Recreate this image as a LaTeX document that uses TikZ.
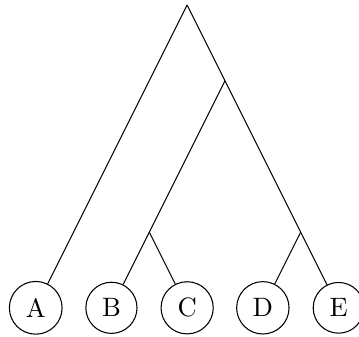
\documentclass[tikz,border=0pt]{standalone}
\usepackage{tikz}

\tikzset{leaf/.style={draw, circle}}

\begin{document}
\begin{tikzpicture}
		%%%%% START %%%%%
		\useasboundingbox (-0.472, -0.373) rectangle (4.270, 4.066);
		
		\node[leaf] (a) at (0, 0) {A};
		\node[leaf] (b) at (1, 0) {B};
		\node[leaf] (c) at (2, 0) {C};
		\node[leaf] (d) at (3, 0) {D};
		\node[leaf] (e) at (4, 0) {E};
		
		\coordinate (root) at (2, 4);
		\coordinate (bcde) at (2.5, 3);
		\coordinate (bc) at (1.5, 1);
		\coordinate (de) at (3.5, 1);
		
		\draw (root) -- (a);
		\draw (root) -- (e);
		\draw (bcde) -- (b);
		\draw (bc) -- (c);
		\draw (de) -- (d);
		
		%%%%% END %%%%%
	\end{tikzpicture}
\end{document}
